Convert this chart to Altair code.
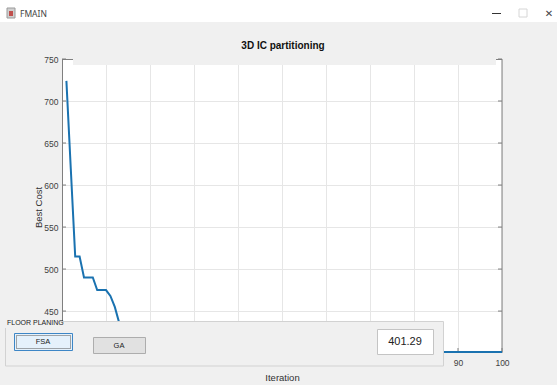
import altair as alt
import pandas as pd

# ---------------- data ----------------
iterations = list(range(1, 101))
best_cost = [
    724, 619, 515, 515, 490, 490, 490, 475, 475, 475,
    468, 455, 436, 432, 432, 427, 424, 424, 421, 419,
    419, 416, 416, 414, 414, 412, 412, 410, 410, 410,
    408, 408, 407, 407, 407, 406, 406, 405, 405, 405,
    404, 404, 404, 403.5, 403.5, 403, 403, 403, 402.6, 402.6,
    402.6, 402.2, 402.2, 402.2, 401.8, 401.8, 401.8, 401.5, 401.5, 401.5,
    401.29, 401.29, 401.29, 401.29, 401.29, 401.29, 401.29, 401.29, 401.29, 401.29,
    401.29, 401.29, 401.29, 401.29, 401.29, 401.29, 401.29, 401.29, 401.29, 401.29,
    401.29, 401.29, 401.29, 401.29, 401.29, 401.29, 401.29, 401.29, 401.29, 401.29,
    401.29, 401.29, 401.29, 401.29, 401.29, 401.29, 401.29, 401.29, 401.29, 401.29,
]
x_ticks = [0, 10, 20, 30, 40, 50, 60, 70, 80, 90, 100]
y_ticks = [450, 500, 550, 600, 650, 700, 750]
y_domain = [401.29, 750]
x_domain = [0, 100]
chart_title = "3D IC partitioning"
window_title = "FMAIN"
panel_title = "FLOOR PLANING"
button_labels = ["FSA", "GA"]
result_text = "401.29"

# ---------------- layout ----------------
OX, OY = 62, 59
W, H = 440, 293
FONT = "Liberation Sans"
UI_FONT = "Noto Sans"
AX = "#7f7f7f"
GRID = "#e6e6e6"
LBL = "#404040"
BG = "#f0f0f0"

dummy = alt.Data(values=[{"a": 1}])


def rect(x, x2, y, y2, fill, stroke=None, sw=1, dash=None):
    kw = dict(fill=fill)
    if stroke is not None:
        kw.update(stroke=stroke, strokeWidth=sw)
    else:
        kw.update(strokeWidth=0)
    if dash is not None:
        kw["strokeDash"] = dash
    return alt.Chart(dummy).mark_rect(**kw).encode(
        x=alt.value(x - OX), x2=alt.value(x2 - OX),
        y=alt.value(y - OY), y2=alt.value(y2 - OY))


def rule(x, x2, y, y2, color, sw=1):
    return alt.Chart(dummy).mark_rule(color=color, strokeWidth=sw).encode(
        x=alt.value(x - OX), x2=alt.value(x2 - OX),
        y=alt.value(y - OY), y2=alt.value(y2 - OY))


def text(s, x, y, size, color="#222222", align="center", weight="normal",
         font=FONT, baseline="middle"):
    return alt.Chart(dummy).mark_text(
        text=s, fontSize=size, color=color, align=align, baseline=baseline,
        fontWeight=weight, font=font).encode(
        x=alt.value(x - OX), y=alt.value(y - OY))


xscale = alt.Scale(domain=x_domain, nice=False, zero=False)
yscale = alt.Scale(domain=y_domain, nice=False, zero=False)

x_axis = alt.Axis(
    values=x_ticks, tickSize=0, domainColor=AX, domainWidth=1,
    gridColor=GRID, gridWidth=1, labelFont=FONT, labelFontSize=8.5,
    labelColor=LBL, labelPadding=6, labelFlush=False,
    title="Iteration", titleFont=FONT, titleFontSize=9.5,
    titleFontWeight="normal", titleColor="#303030",
    titleX=220, titleY=25, titleBaseline="middle", zindex=0)
y_axis = alt.Axis(
    values=y_ticks, tickSize=0, domainColor=AX, domainWidth=1,
    gridColor=GRID, gridWidth=1, labelFont=FONT, labelFontSize=8.5,
    labelColor=LBL, labelPadding=4, labelFlush=False,
    title="Best Cost", titleFont=FONT, titleFontSize=9.5,
    titleFontWeight="normal", titleColor="#303030",
    titleX=-24, titleY=148, titleBaseline="middle", zindex=0)

df = pd.DataFrame({"Iteration": iterations, "Best Cost": best_cost})
ytdf = pd.DataFrame({"Best Cost": y_ticks})
xtdf = pd.DataFrame({"Iteration": x_ticks})

line = alt.Chart(df).mark_line(color="#1a72b0", strokeWidth=2).encode(
    x=alt.X("Iteration:Q", scale=xscale, axis=x_axis),
    y=alt.Y("Best Cost:Q", scale=yscale, axis=y_axis),
)

left_ticks = alt.Chart(ytdf).mark_rule(color=AX, strokeWidth=1).encode(
    y=alt.Y("Best Cost:Q", scale=yscale, axis=y_axis),
    x=alt.value(0), x2=alt.value(4))
right_ticks = alt.Chart(ytdf).mark_rule(color=AX, strokeWidth=1).encode(
    y=alt.Y("Best Cost:Q", scale=yscale, axis=y_axis),
    x=alt.value(W - 4), x2=alt.value(W))
bottom_ticks = alt.Chart(xtdf).mark_rule(color=AX, strokeWidth=1).encode(
    x=alt.X("Iteration:Q", scale=xscale, axis=x_axis),
    y=alt.value(H - 4), y2=alt.value(H))

layers = [
    line.mark_line(opacity=0),
    # gray strip that hides the top of the axes box
    rect(73, 496, 57, 65, BG),
    rule(62, 73, 59.5, 59.5, AX),
    rule(496, 502, 59.5, 59.5, AX),
    rule(502, 502, 59, 352, AX),
    left_ticks, right_ticks, bottom_ticks,
    text(chart_title, 283, 46, 10, color="#111111", weight="bold"),
    line,
    # window title bar
    rect(0, 557, 0, 22, "#ffffff"),
    rect(7, 15, 8, 18, "#d0d0d0", stroke="#9a9a9a"),
    rect(9, 13, 11, 16, "#c0504d"),
    text(window_title, 20, 14, 8.5, color="#444444", align="left", font=UI_FONT),
    rule(492, 501, 13.5, 13.5, "#333333"),
    rect(519, 527, 9, 17, "#ffffff", stroke="#d6d6d6"),
    text("\u2715", 549, 13.5, 10, color="#444444", font="DejaVu Sans"),
    # floor planning panel
    rect(5.5, 443.5, 321.5, 366, BG, stroke="#d2d2d2"),
    rect(5, 58, 316, 328, BG),
    text(panel_title, 7, 323, 7, color="#222222", align="left"),
    rect(14.5, 72.5, 333.5, 350.5, "#e5f1fb", stroke="#3d86c6"),
    rect(16.5, 70.5, 335.5, 348.5, "#e5f1fb", stroke="#555555", dash=[1, 1]),
    text(button_labels[0], 43, 342, 7.5),
    rect(93.5, 145.5, 337.5, 353.5, "#e1e1e1", stroke="#adadad"),
    text(button_labels[1], 119, 345.5, 7.5),
    rect(377.5, 433.5, 329.5, 354.5, "#ffffff", stroke="#c4c4c4"),
    text(result_text, 405, 342, 11, color="#222222"),
]

chart = alt.layer(*layers).properties(
    width=W, height=H,
    padding={"left": OX, "top": OY, "right": 557 - OX - W, "bottom": 385 - OY - H},
    autosize=alt.AutoSizeParams(type="none"),
).configure(background=BG).configure_view(fill="white", stroke="transparent")

chart.save("out.html", embed_options={"renderer": "svg", "actions": False})
